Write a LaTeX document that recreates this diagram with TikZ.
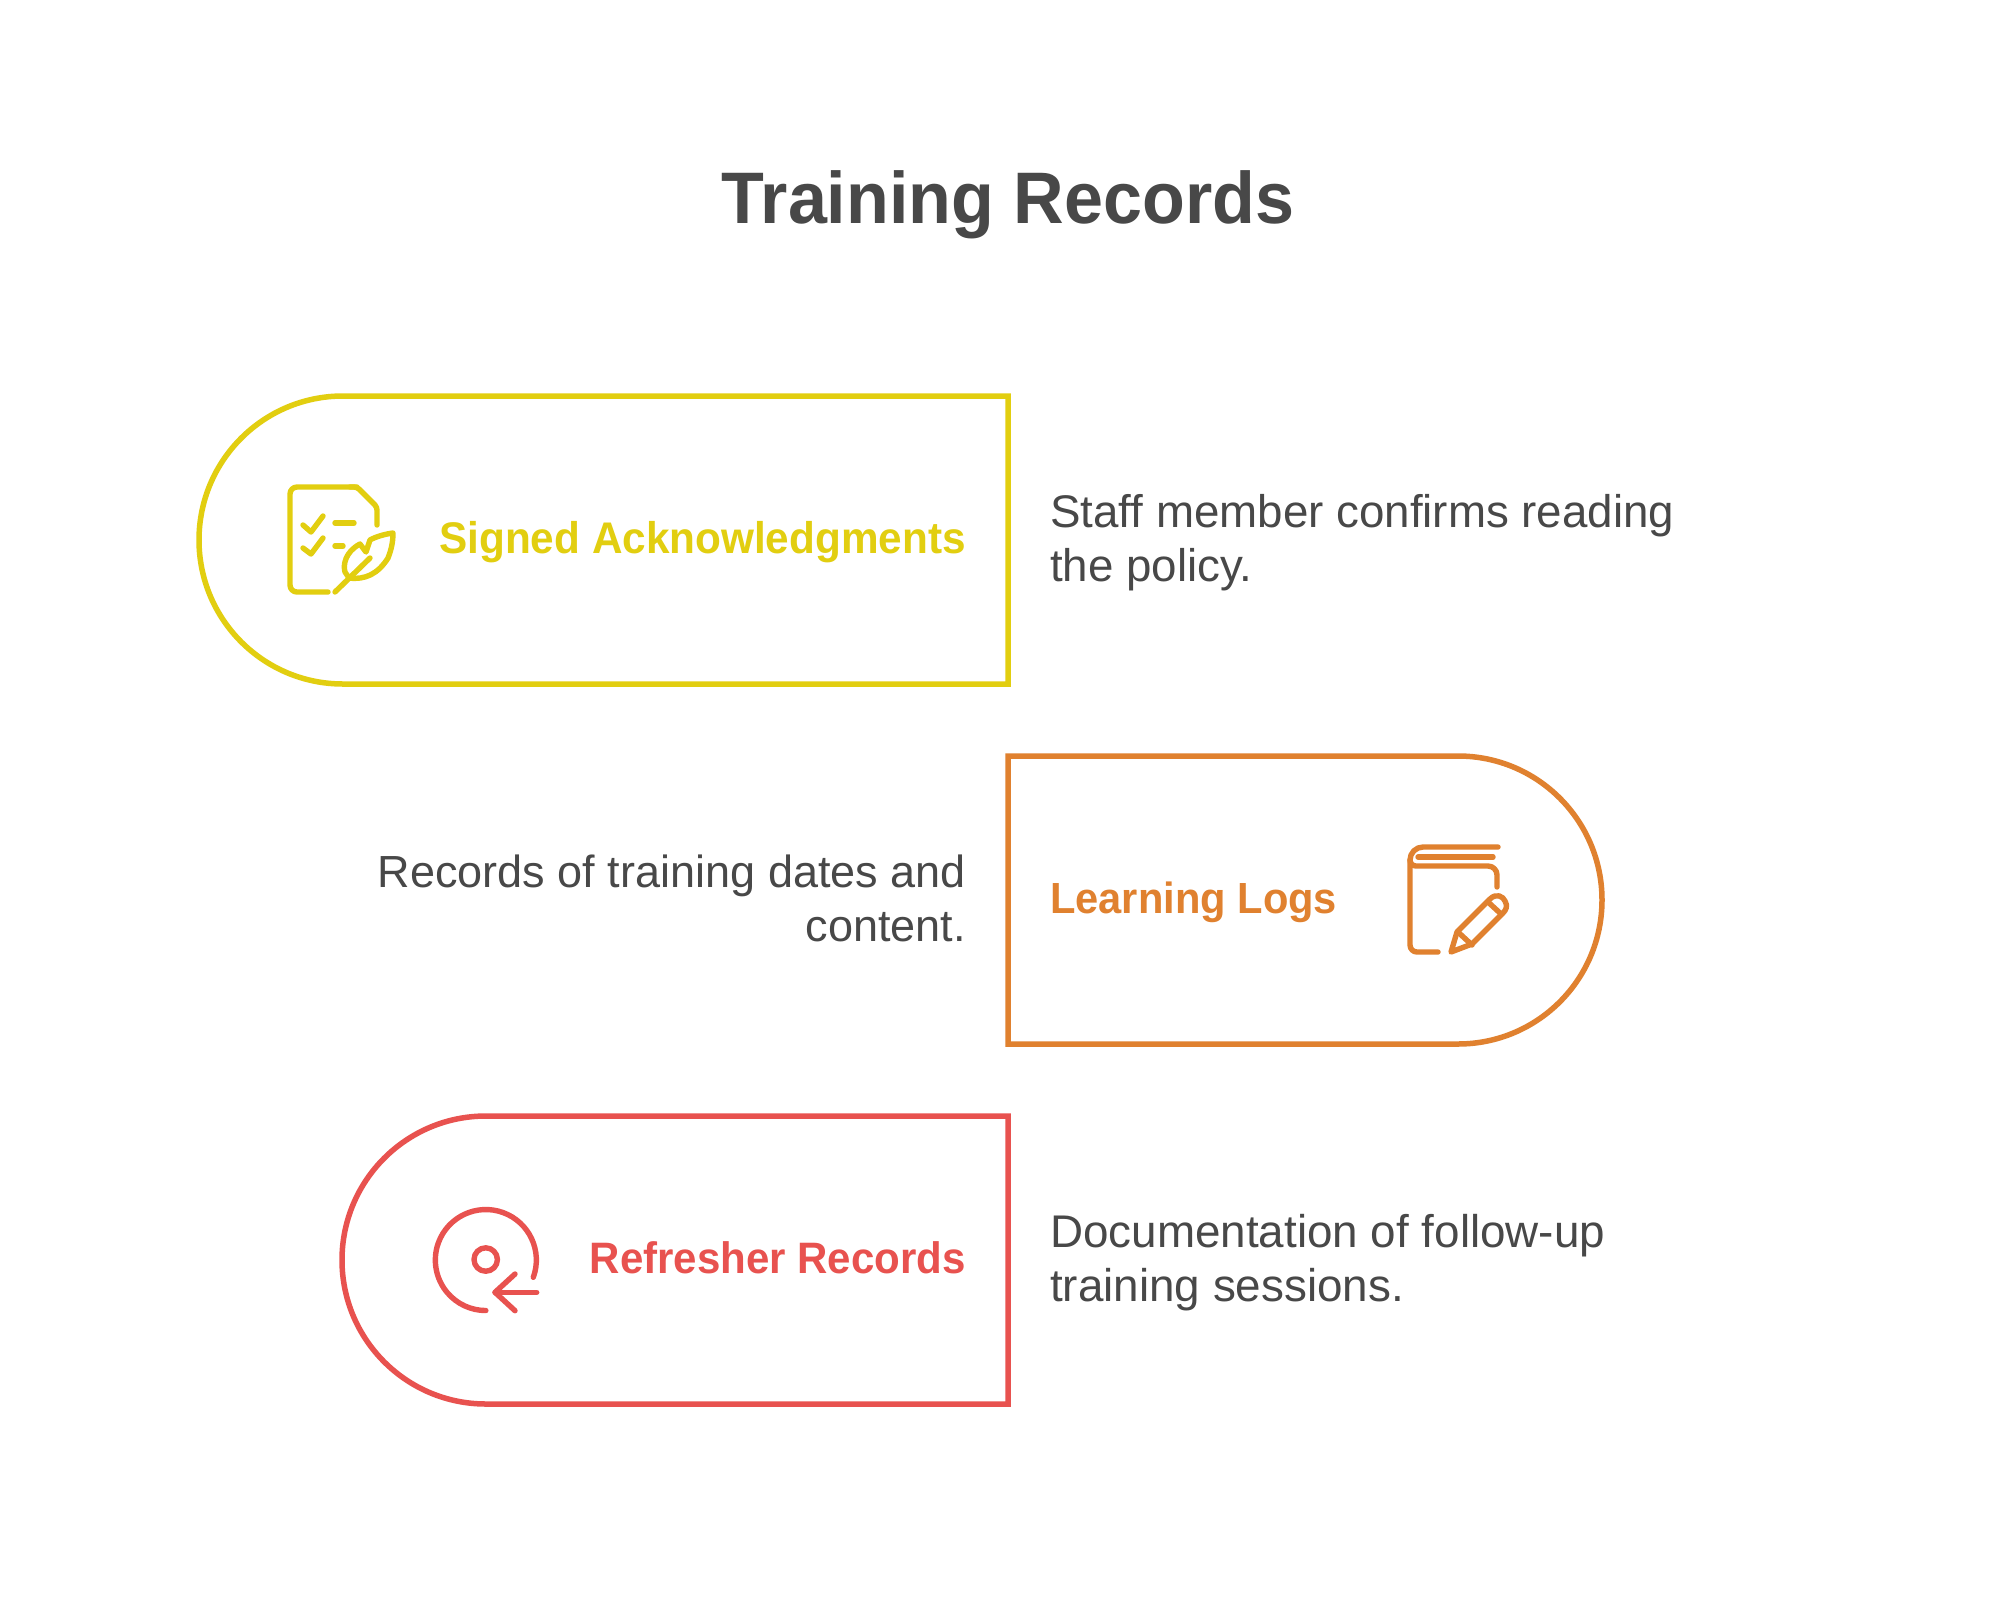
\documentclass[tikz,border=0pt]{standalone}
\usepackage{fontspec}
\setmainfont{Liberation Sans}
\newfontfamily\ttlfont[FakeStretch=0.96]{Liberation Sans}
\newfontfamily\labfont[FakeStretch=0.955]{Liberation Sans}
\definecolor{cy}{HTML}{E2CE10}
\definecolor{co}{HTML}{E0812F}
\definecolor{cr}{HTML}{E8524F}
\definecolor{ct}{HTML}{484848}
\tikzset{
  outline/.style={line width=5.5pt,line join=miter},
  ic/.style={line width=5.4pt,line cap=round,line join=round},
  lab/.style={anchor=base east,inner sep=0pt},
  desc/.style={text=ct,inner sep=0pt,align=left,anchor=base west},
  descr/.style={text=ct,inner sep=0pt,align=right,anchor=base east},
}
\begin{document}
\begin{tikzpicture}[x=1pt,y=-1pt]
\useasboundingbox (0,0) rectangle (2016,1620);
\fill[white] (0,0) rectangle (2016,1620);
\node[font=\ttlfont\fontsize{73}{80}\selectfont\bfseries,text=ct,inner sep=0pt,anchor=base] (title) at (1008,223) {Training Records};
% boxes
\draw[outline,cy] (1008,396) -- (343,396) arc[start angle=-90,end angle=-270,radius=144] -- (1008,684) -- cycle;
\draw[outline,co] (1008,756) -- (1458,756) arc[start angle=-90,end angle=90,radius=144] -- (1008,1044) -- cycle;
\draw[outline,cr] (1008,1116) -- (486,1116) arc[start angle=-90,end angle=-270,radius=144] -- (1008,1404) -- cycle;
% labels
\node[lab,text=cy,font=\labfont\fontsize{44.3}{54}\selectfont\bfseries] (l1) at (966,553) {Signed Acknowledgments};
\node[lab,text=co,anchor=base west,font=\labfont\fontsize{43.6}{54}\selectfont\bfseries] (l2) at (1050,913) {Learning Logs};
\node[lab,text=cr,font=\labfont\fontsize{44}{54}\selectfont\bfseries] (l3) at (966,1273) {Refresher Records};
\node[desc,font=\fontsize{45.7}{54}\selectfont] (d1) at (1050,581) {Staff member confirms reading\\the policy.};
\node[descr,font=\fontsize{45}{54}\selectfont] (d2) at (966,941) {Records of training dates and\\content.};
\node[desc,font=\fontsize{45.8}{54}\selectfont] (d3) at (1050,1301) {Documentation of follow-up\\training sessions.};
% icon 1
\begin{scope}[ic,cy]
\draw[rounded corners=7pt] (328,592) -- (290,592) -- (290,487) -- (357,487);
\draw[rounded corners=3pt] (350,487) -- (357,487) -- (377,507) -- (377,525);
\draw (303,525) -- (311,532) -- (323,516);
\draw (303,548) -- (311,554) -- (323,538);
\draw (335,523) -- (354,523);
\draw (335,546) -- (343,546);
\draw (393,533) .. controls (385,534) and (375,537) .. (370,540) -- (366,552) -- (360,544)
  .. controls (345,552) and (343,565) .. (345,572) -- (349,578)
  .. controls (365,580) and (378,574) .. (388,558) .. controls (392,548) and (393,540) .. (393,533) -- cycle;
\draw (335,592) -- (370,558);
\end{scope}
% icon 2
\begin{scope}[ic,co]
\draw (1498,847) -- (1423,847) arc[start angle=-90,end angle=-180,radius=13] -- (1410,945)
  arc[start angle=180,end angle=90,radius=7] -- (1438,952);
\draw (1410,860) arc[start angle=180,end angle=90,radius=6] -- (1488,866)
  arc[start angle=-90,end angle=0,radius=9] -- (1497,887);
\draw (1418,857) -- (1493,857);
\draw (1451,952) -- (1457,932) -- (1490,899) .. controls (1496,893) and (1503,896) .. (1505,901)
  .. controls (1508,906) and (1506,910) .. (1503,913) -- (1472,944) -- cycle;
\draw (1488,902) -- (1500,913);
\draw (1459,933) -- (1472,945);
\end{scope}
% icon 3
\begin{scope}[ic,cr]
\draw (533.3,1277.3) arc[start angle=20,end angle=-270,radius=50.5];
\draw (485.7,1259.5) circle[radius=11.7];
\draw (536.7,1292.3) -- (495,1292.3);
\draw (515,1274) -- (495,1292.3) -- (515,1310.7);
\end{scope}
\end{tikzpicture}
\end{document}
